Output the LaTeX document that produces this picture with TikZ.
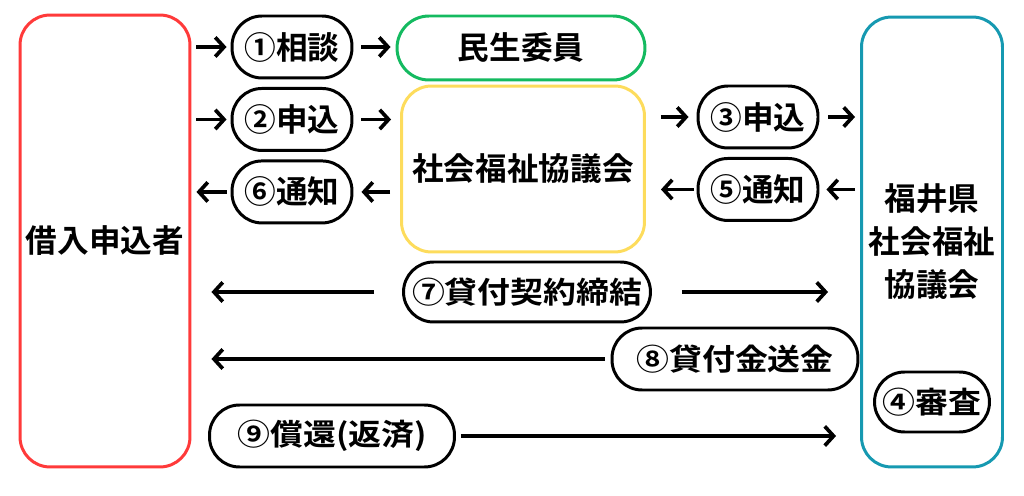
\documentclass[tikz,border=0pt]{standalone}
\usepackage{fontspec}
\usepackage{xcolor}
\usepackage{tikz}
\usetikzlibrary{arrows.meta,positioning,calc}
\newfontfamily\jpfont{Noto Sans CJK JP Bold}
\newfontfamily\jpwide{Noto Sans CJK JP Bold}[FakeStretch=1.1]
\definecolor{borrower}{RGB}{255,58,58}
\definecolor{minsei}{RGB}{20,186,96}
\definecolor{shakyo}{RGB}{253,220,92}
\definecolor{prefshakyo}{RGB}{22,153,177}

\begin{document}
\begin{tikzpicture}[
    x=0.02cm, y=-0.02cm,
    party/.style={rectangle, thick, line width=1.7pt, rounded corners=0.6cm, align=center, font=\jpfont\fontsize{18}{24.5}\selectfont},
    pill/.style={rectangle, draw=black, line width=1.7pt, rounded corners=0.6cm, minimum width=2.4cm, minimum height=1.24cm, inner sep=0pt, font=\jpfont\fontsize{18}{22}\selectfont},
    widepill/.style={pill, minimum width=4.92cm, font=\jpwide\fontsize{17}{22}\selectfont},
    arr/.style={-{Straight Barb[length=5pt,width=11pt]}, line width=2.1pt},
    node distance=0.15cm
]
    \useasboundingbox (0,0) rectangle (1024,496);

    \node[party, draw=borrower, minimum width=3.4cm, minimum height=9.04cm] (applicant) at (105,241) {借入申込者};
    \node[party, draw=minsei, minimum width=4.96cm, minimum height=1.28cm, rounded corners=0.64cm] (iin) at (521,48) {民生委員};
    \node[party, draw=shakyo, minimum width=4.86cm, minimum height=3.32cm] (council) at (523,169) {社会福祉協議会};
    \node[party, draw=prefshakyo, minimum width=2.82cm, minimum height=9cm] (prefcouncil) at (932,242) {福井県\\社会福祉\\協議会};

    \node[pill] (soudan) at (292,47) {①相談};
    \node[pill, below=of soudan] (moushi) {②申込};
    \node[pill, below=of moushi] (tsuchi) {⑥通知};
    \node[pill] (moushiken) at (758,117) {③申込};
    \node[pill, below=of moushiken] (tsuchiken) {⑤通知};
    \node[pill, minimum width=2.3cm, minimum height=1.2cm, font=\jpwide\fontsize{17}{20}\selectfont] (shinsa) at (932,402) {④審査};
    \node[widepill, minimum width=4.94cm, minimum height=1.2cm] (keiyaku) at (527,292) {⑦貸付契約締結};
    \node[widepill] (soukin) at (735,359) {⑧貸付金送金};
    \node[widepill, minimum width=4.9cm] (shokan) at (332,436) {⑨償還(返済)};

    \draw[arr, shorten <=0.1cm, shorten >=0.08cm] (applicant.east |- soudan) -- (soudan);
    \draw[arr, shorten <=0.16cm, shorten >=0.1cm] (soudan) -- (soudan -| iin.west);
    \draw[arr, shorten <=0.1cm, shorten >=0.08cm] (applicant.east |- moushi) -- (moushi);
    \draw[arr, shorten <=0.16cm, shorten >=0.18cm] (moushi) -- (moushi -| council.west);
    \draw[arr, shorten <=0.08cm, shorten >=0.1cm] (tsuchi) -- (tsuchi -| applicant.east);
    \draw[arr, shorten <=0.2cm, shorten >=0.16cm] (tsuchi -| council.west) -- (tsuchi);
    \draw[arr, shorten <=0.3cm, shorten >=0.16cm] (moushiken -| council.east) -- (moushiken);
    \draw[arr, shorten <=0.18cm, shorten >=0.1cm] (moushiken) -- (moushiken -| prefcouncil.west);
    \draw[arr, shorten <=0.06cm, shorten >=0.3cm] (tsuchiken) -- (tsuchiken -| council.east);
    \draw[arr, shorten <=0.1cm, shorten >=0.14cm] (tsuchiken -| prefcouncil.west) -- (tsuchiken);
    \draw[arr, shorten <=0.56cm, shorten >=0.4cm] (keiyaku) -- (keiyaku -| applicant.east);
    \draw[arr, shorten <=0.6cm, shorten >=0.64cm] (keiyaku) -- (keiyaku -| prefcouncil.west);
    \draw[arr, shorten <=0.12cm, shorten >=0.4cm] (soukin) -- (soukin -| applicant.east);
    \draw[arr, shorten <=0.1cm, shorten >=0.48cm] (shokan) -- (shokan -| prefcouncil.west);
\end{tikzpicture}
\end{document}
